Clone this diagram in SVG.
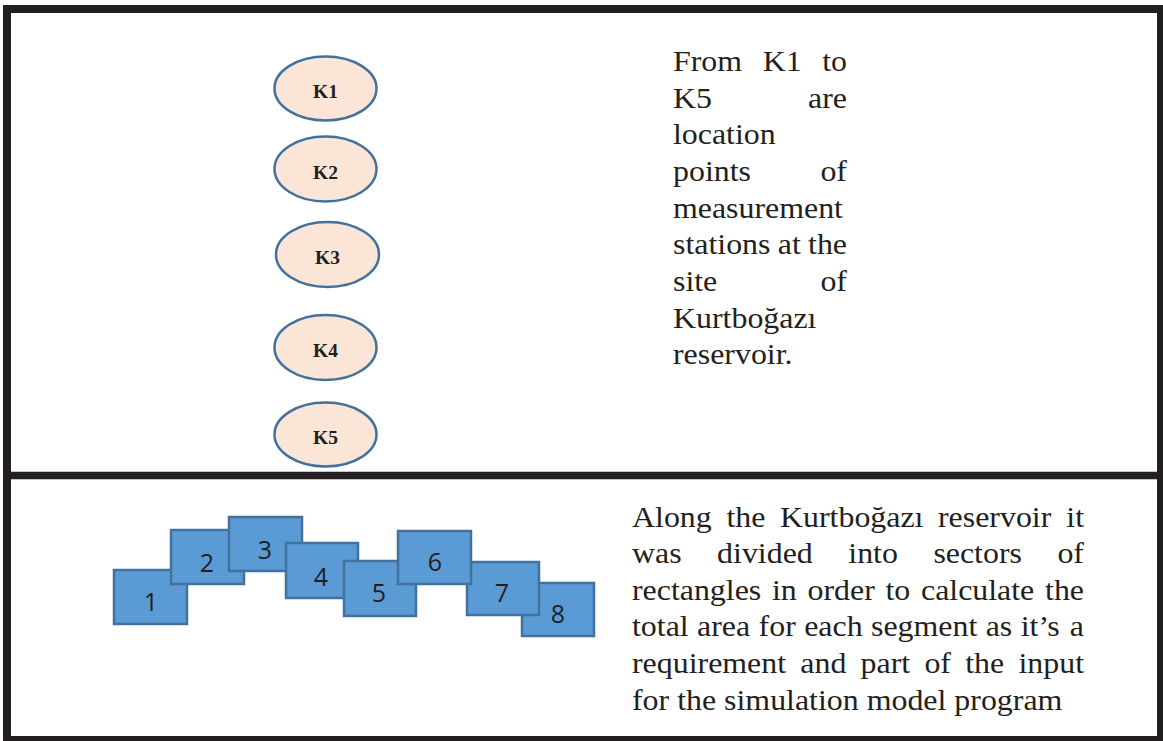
<svg xmlns="http://www.w3.org/2000/svg" width="1163" height="741" viewBox="0 0 1163 741">
  <style>
    .frame { fill: none; stroke: #231f20; stroke-width: 8; }
    .divider { stroke: #231f20; stroke-width: 7.5; }
    .station ellipse { fill: #fbe5d6; stroke: #41719c; stroke-width: 2.5; }
    .station text { font-family: "Liberation Serif", "Times New Roman", serif; font-weight: bold; font-size: 19.5px; fill: #231f20; text-anchor: middle; }
    .sector rect { fill: #5b9bd5; stroke: #41719c; stroke-width: 2.5; }
    .sector text { font-family: "Open Sans", "Noto Sans", sans-serif; font-size: 25px; fill: #1f1f1f; text-anchor: middle; }
    .t { font-family: "Liberation Serif", "Times New Roman", serif; font-size: 29px; fill: #231f20; }
    .r { text-anchor: end; }
  </style>

  <!-- outer frame and the line between the two panels -->
  <g id="frame">
    <rect class="frame" x="7" y="9" width="1154" height="731"/>
    <line class="divider" x1="3" y1="475.5" x2="1163" y2="475.5"/>
  </g>

  <!-- measurement stations -->
  <g id="K1" class="station"><ellipse cx="325.5" cy="88.5" rx="51" ry="32"/><text x="325.5" y="98">K1</text></g>
  <g id="K2" class="station"><ellipse cx="325.5" cy="169" rx="51" ry="32.5"/><text x="325.5" y="178.5">K2</text></g>
  <g id="K3" class="station"><ellipse cx="327.5" cy="254.5" rx="51.5" ry="32.5"/><text x="327.5" y="264">K3</text></g>
  <g id="K4" class="station"><ellipse cx="325.5" cy="347.5" rx="51" ry="32.5"/><text x="325.5" y="357">K4</text></g>
  <g id="K5" class="station"><ellipse cx="325.5" cy="434.5" rx="51" ry="32"/><text x="325.5" y="444">K5</text></g>

  <!-- connectors: none in this diagram -->
  <g id="connectors"/>

  <!-- reservoir sectors (stacking order as drawn) -->
  <g id="S1" class="sector"><rect x="114" y="570" width="73" height="54"/><text x="151" y="611">1</text></g>
  <g id="S2" class="sector"><rect x="171" y="530" width="73" height="54"/><text x="207" y="572">2</text></g>
  <g id="S3" class="sector"><rect x="229" y="517" width="73" height="54"/><text x="265" y="559">3</text></g>
  <g id="S4" class="sector"><rect x="286" y="543" width="72" height="55"/><text x="321" y="586">4</text></g>
  <g id="S5" class="sector"><rect x="344" y="561" width="72" height="55"/><text x="379" y="602">5</text></g>
  <g id="S8" class="sector"><rect x="522" y="583" width="72" height="53"/><text x="558" y="623">8</text></g>
  <g id="S7" class="sector"><rect x="467" y="562" width="72" height="53"/><text x="502" y="602">7</text></g>
  <g id="S6" class="sector"><rect x="398" y="531" width="73" height="53"/><text x="435" y="571">6</text></g>

  <!-- caption of the upper panel (justified column) -->
  <g id="caption-stations">
    <text class="t" transform="translate(673 71) scale(1.1 1)">From</text>
    <text class="t" transform="translate(762.7 71) scale(1.1 1)">K1</text>
    <text class="t r" transform="translate(847 71) scale(1.1 1)">to</text>
    <text class="t" transform="translate(673 107.7) scale(1.1 1)">K5</text>
    <text class="t r" transform="translate(847 107.7) scale(1.1 1)">are</text>
    <text class="t" transform="translate(673 144.3) scale(1.1 1)">location</text>
    <text class="t" transform="translate(673 181) scale(1.1 1)">points</text>
    <text class="t r" transform="translate(847 181) scale(1.1 1)">of</text>
    <text class="t" transform="translate(673 217.7) scale(1.1 1)">measurement</text>
    <text class="t" transform="translate(673 254.3) scale(1.1 1)">stations</text>
    <text class="t" transform="translate(777.8 254.3) scale(1.1 1)">at</text>
    <text class="t r" transform="translate(847 254.3) scale(1.1 1)">the</text>
    <text class="t" transform="translate(673 291) scale(1.1 1)">site</text>
    <text class="t r" transform="translate(847 291) scale(1.1 1)">of</text>
    <text class="t" transform="translate(673 327.7) scale(1.1 1)">Kurtboğazı</text>
    <text class="t" transform="translate(673 364.3) scale(1.1 1)">reservoir.</text>
  </g>

  <!-- caption of the lower panel (justified column) -->
  <g id="caption-sectors">
    <text class="t" transform="translate(632 526.5) scale(1.1 1)">Along</text>
    <text class="t" transform="translate(726.4 526.5) scale(1.1 1)">the</text>
    <text class="t" transform="translate(780 526.5) scale(1.1 1)">Kurtboğazı</text>
    <text class="t" transform="translate(938 526.5) scale(1.1 1)">reservoir</text>
    <text class="t r" transform="translate(1084 526.5) scale(1.1 1)">it</text>

    <text class="t" transform="translate(632 563) scale(1.1 1)">was</text>
    <text class="t" transform="translate(717.1 563) scale(1.1 1)">divided</text>
    <text class="t" transform="translate(848.3 563) scale(1.1 1)">into</text>
    <text class="t" transform="translate(933.4 563) scale(1.1 1)">sectors</text>
    <text class="t r" transform="translate(1084 563) scale(1.1 1)">of</text>

    <text class="t" transform="translate(632 599.7) scale(1.1 1)">rectangles</text>
    <text class="t" transform="translate(772 599.7) scale(1.1 1)">in</text>
    <text class="t" transform="translate(807.5 599.7) scale(1.1 1)">order</text>
    <text class="t" transform="translate(885.5 599.7) scale(1.1 1)">to</text>
    <text class="t" transform="translate(921 599.7) scale(1.1 1)">calculate</text>
    <text class="t r" transform="translate(1084 599.7) scale(1.1 1)">the</text>

    <text class="t" transform="translate(632 636.3) scale(1.1 1)">total</text>
    <text class="t" transform="translate(697.1 636.3) scale(1.1 1)">area</text>
    <text class="t" transform="translate(758.6 636.3) scale(1.1 1)">for</text>
    <text class="t" transform="translate(804.2 636.3) scale(1.1 1)">each</text>
    <text class="t" transform="translate(871 636.3) scale(1.1 1)">segment</text>
    <text class="t" transform="translate(985.7 636.3) scale(1.1 1)">as</text>
    <text class="t" transform="translate(1020.7 636.3) scale(1.1 1)">it’s</text>
    <text class="t r" transform="translate(1084 636.3) scale(1.1 1)">a</text>

    <text class="t" transform="translate(632 673) scale(1.1 1)">requirement</text>
    <text class="t" transform="translate(800.3 673) scale(1.1 1)">and</text>
    <text class="t" transform="translate(860.6 673) scale(1.1 1)">part</text>
    <text class="t" transform="translate(924.4 673) scale(1.1 1)">of</text>
    <text class="t" transform="translate(965.2 673) scale(1.1 1)">the</text>
    <text class="t r" transform="translate(1084 673) scale(1.1 1)">input</text>

    <text class="t" transform="translate(632 709.5) scale(1.1 1)">for the simulation model program</text>
  </g>
</svg>
